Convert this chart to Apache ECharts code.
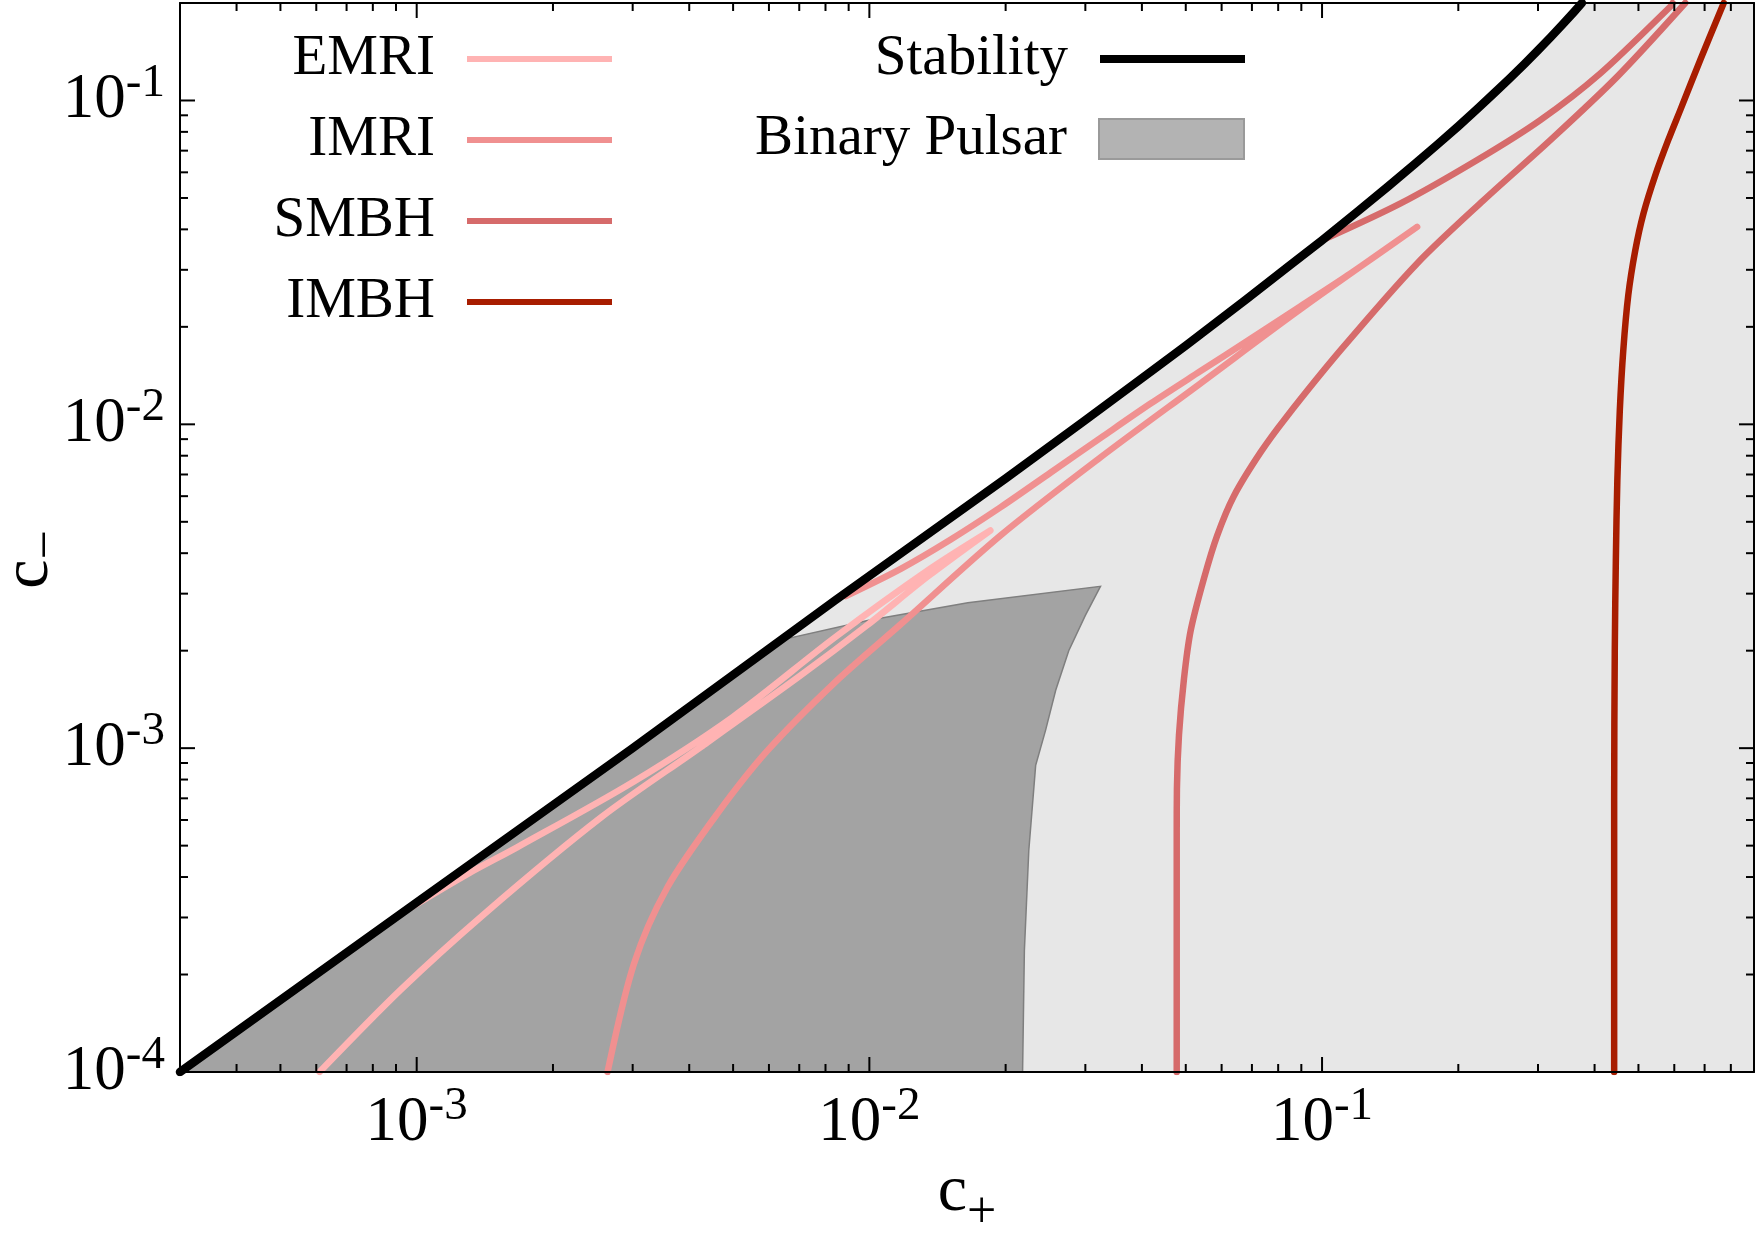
<!DOCTYPE html>
<html>
<head>
<meta charset="utf-8">
<script src="https://cdn.jsdelivr.net/npm/echarts@6/dist/echarts.min.js"></script>
<style>html,body{margin:0;padding:0;background:#fff}#chart{width:1763px;height:1238px}</style>
</head>
<body>
<div id="chart"></div>
<script>
// ---------------- data ----------------
const X_MIN = 3e-4, X_MAX = 0.9, Y_MIN = 1e-4, Y_MAX = 0.2;

const xMajorTicks = [1e-3, 1e-2, 1e-1];
const xTickLabels = ['-3', '-2', '-1'];
const xMinorTicks = [4e-4,5e-4,6e-4,7e-4,8e-4,9e-4, 2e-3,3e-3,4e-3,5e-3,6e-3,7e-3,8e-3,9e-3,
                     2e-2,3e-2,4e-2,5e-2,6e-2,7e-2,8e-2,9e-2, 0.2,0.3,0.4,0.5,0.6,0.7,0.8];
const yMajorTicks = [1e-4, 1e-3, 1e-2, 1e-1];
const yTickLabels = ['-4', '-3', '-2', '-1'];
const yMinorTicks = [2e-4,3e-4,4e-4,5e-4,6e-4,7e-4,8e-4,9e-4, 2e-3,3e-3,4e-3,5e-3,6e-3,7e-3,8e-3,9e-3,
                     2e-2,3e-2,4e-2,5e-2,6e-2,7e-2,8e-2,9e-2];

// stability boundary (c+, c-)
const stability = [[3e-4,1.0e-4],[1e-3,3.34e-4],[3e-3,1.0e-3],[8.4e-3,2.86e-3],[0.02,6.8e-3],[0.03,0.0103],
  [0.042,0.0146],[0.05,0.0175],[0.068,0.0243],[0.085,0.031],[0.1,0.037],[0.12,0.0455],[0.14,0.0543],
  [0.16,0.0635],[0.18,0.0732],[0.2,0.0833],[0.22,0.094],[0.24,0.1053],[0.26,0.1171],[0.28,0.1296],
  [0.3,0.1429],[0.32,0.1569],[0.34,0.1717],[0.36,0.1875],[0.375,0.2]];

// EMRI: lower branch up to the tip, then upper branch back to the stability line
const emri = [[6.1e-4,1.0e-4],[9.2e-4,1.79e-4],[1.4e-3,3.05e-4],[2.55e-3,6.1e-4],[4.25e-3,1.01e-3],
  [7.06e-3,1.68e-3],[9.9e-3,2.4e-3],[0.0135,3.4e-3],[0.0185,4.7e-3],
  [0.0135,3.55e-3],[8.4e-3,2.2e-3],[5.0e-3,1.25e-3],[3.0e-3,7.85e-4],[1.67e-3,4.95e-4],[1.3e-3,4.1e-4],[9.7e-4,3.22e-4]];

// IMRI: lower branch up to the tip, then upper branch back to the stability line
const imri = [[2.64e-3,1.0e-4],[3.02e-3,2.16e-4],[3.58e-3,3.72e-4],[4.62e-3,6.29e-4],[5.96e-3,9.84e-4],
  [8.35e-3,1.586e-3],[0.01173,2.413e-3],[0.01951,4.544e-3],[0.03243,7.914e-3],[0.05391,0.01339],
  [0.08966,0.02268],[0.1622,0.0407],
  [0.1156,0.02924],[0.08966,0.02317],[0.06955,0.01837],[0.05391,0.0146],[0.04181,0.01159],[0.03243,9.08e-3],
  [0.02516,7.1e-3],[0.01951,5.55e-3],[0.01513,4.41e-3],[0.01173,3.58e-3],[8.87e-3,2.95e-3]];

// SMBH: two branches
const smbhLower = [[0.04775,1.0e-4],[0.04775,5.35e-4],[0.0478,7.5e-4],[0.0483,1.097e-3],[0.04955,1.64e-3],
  [0.05126,2.306e-3],[0.05483,3.339e-3],[0.05871,4.55e-3],[0.06387,6.01e-3],[0.07312,8.19e-3],
  [0.08305,0.01045],[0.1099,0.01694],[0.1622,0.03139],[0.2276,0.04925],[0.3194,0.07544],[0.4484,0.1183],[0.6345,0.2]];
const smbhUpper = [[0.1,0.037],[0.1491,0.0481],[0.2202,0.0655],[0.3035,0.087],[0.412,0.1213],[0.5877,0.1948],[0.595,0.2]];

// IMBH
const imbh = [[0.4419,1.0e-4],[0.4419,6.9e-4],[0.4433,2.005e-3],[0.4457,3.8e-3],[0.4491,6.72e-3],[0.4548,0.01106],
  [0.4629,0.01694],[0.4748,0.02505],[0.4921,0.0345],[0.5132,0.0449],[0.5448,0.0588],[0.5817,0.0754],
  [0.6185,0.0934],[0.6847,0.1333],[0.7716,0.2]];

// Binary pulsar excluded region (polygon)
const pulsarRegion = [[3e-4,1.0e-4],[1e-3,3.34e-4],[3e-3,1.0e-3],[6.4e-3,2.16e-3],[9.91e-3,2.48e-3],
  [0.0165,2.81e-3],[0.0324,3.16e-3],[0.030,2.57e-3],[0.02757,2.0e-3],[0.0258,1.51e-3],[0.0245,1.135e-3],
  [0.0233,8.85e-4],[0.0225,4.83e-4],[0.0220,2.37e-4],[0.0218,1.0e-4]];

// ---------------- styling ----------------
const FONT = "'Liberation Serif', 'Times New Roman', serif";
const C_EMRI = '#FFB3B3', C_IMRI = '#F09090', C_SMBH = '#D66B6B', C_IMBH = '#A81D00';

const labelRich = {
  b: {fontFamily: FONT, fontSize: 63, lineHeight: 80, color: '#000'},
  s: {fontFamily: FONT, fontSize: 47, lineHeight: 30, verticalAlign: 'top', color: '#000'}
};
function powLabel(v, ticks, labels) {
  for (let i = 0; i < ticks.length; i++) {
    if (Math.abs(Math.log10(v) - Math.log10(ticks[i])) < 1e-6) return '{b|10}{s|' + labels[i] + '}';
  }
  return '';
}
const nameRich = {
  c: {fontFamily: FONT, fontSize: 66, lineHeight: 70, color: '#000'},
  sub: {fontFamily: FONT, fontSize: 52, padding: [34, 0, 0, 0], color: '#000'}
};
const xNameRich = {
  c: {fontFamily: FONT, fontSize: 66, lineHeight: 70, color: '#000'},
  sub: {fontFamily: FONT, fontSize: 52, padding: [40, 0, 0, 0], color: '#000'}
};

const axisLineStyle = {show: true, onZero: false, lineStyle: {color: '#000', width: 2}};

function lineSeries(name, data, color, width, z, smooth) {
  return {name: name, type: 'line', data: data, color: color, symbol: 'none', showSymbol: false, smooth: smooth,
    lineStyle: {color: color, width: width, cap: 'round', join: 'round'}, silent: true, z: z, clip: true};
}

const legendText = {fontFamily: FONT, fontSize: 57, color: '#000', lineHeight: 60, padding: [0, 27, 0, 0]};

const chart = echarts.init(document.getElementById('chart'), null, {renderer: 'canvas'});
chart.setOption({
  animation: false,
  backgroundColor: '#fff',
  grid: {left: 180, right: 9, top: 3, bottom: 166, containLabel: false, outerBoundsMode: 'none'},
  xAxis: [
    {type: 'log', logBase: 10, min: X_MIN, max: X_MAX, position: 'bottom', z: 10,
     axisLine: axisLineStyle, axisTick: {show: false}, minorTick: {show: false}, splitLine: {show: false},
     axisLabel: {margin: 11, formatter: v => powLabel(v, xMajorTicks, xTickLabels), rich: labelRich},
     name: '{c|c}{sub|+}', nameLocation: 'middle', nameGap: 75, nameMoveOverlap: false,
     nameTextStyle: {rich: xNameRich}},
    {type: 'log', logBase: 10, min: X_MIN, max: X_MAX, position: 'top', z: 10,
     axisLine: axisLineStyle, axisTick: {show: false}, minorTick: {show: false}, splitLine: {show: false},
     axisLabel: {show: false}}
  ],
  yAxis: [
    {type: 'log', logBase: 10, min: Y_MIN, max: Y_MAX, position: 'left', z: 10,
     axisLine: axisLineStyle, axisTick: {show: false}, minorTick: {show: false}, splitLine: {show: false},
     axisLabel: {margin: 15, formatter: v => powLabel(v, yMajorTicks, yTickLabels), rich: labelRich},
     name: '{c|c}{sub|\u2212}', nameLocation: 'middle', nameRotate: 90, nameGap: 107, nameMoveOverlap: false,
     nameTextStyle: {rich: nameRich, padding: [0, 44, 0, 0]}},
    {type: 'log', logBase: 10, min: Y_MIN, max: Y_MAX, position: 'right', z: 10,
     axisLine: axisLineStyle, axisTick: {show: false}, minorTick: {show: false}, splitLine: {show: false},
     axisLabel: {show: false}}
  ],
  legend: [
    {orient: 'vertical', align: 'right', right: 1151, top: 29, padding: 0, itemGap: 21,
     itemWidth: 145, itemHeight: 6, icon: 'rect', selectedMode: false,
     itemStyle: {borderWidth: 0}, textStyle: legendText,
     data: ['EMRI', 'IMRI', 'SMBH', 'IMBH']},
    {orient: 'vertical', align: 'right', right: 518, top: 29, padding: 0,
     itemWidth: 145, itemHeight: 8, icon: 'rect', selectedMode: false,
     itemStyle: {borderWidth: 0}, textStyle: legendText,
     data: [{name: 'Stability', itemStyle: {color: '#000', borderWidth: 0}}]},
    {orient: 'vertical', align: 'right', right: 518, top: 109, padding: 0,
     itemWidth: 145, itemHeight: 40, icon: 'rect', selectedMode: false, textStyle: legendText,
     data: [{name: 'Binary Pulsar', itemStyle: {color: '#B3B3B3', borderColor: '#9A9A9A', borderWidth: 2}}]}
  ],
  series: [
    {name: 'region', type: 'line', data: stability.concat([[X_MAX, Y_MAX]]), symbol: 'none', silent: true,
     lineStyle: {width: 0, opacity: 0}, areaStyle: {color: '#E7E7E7', opacity: 1, origin: 'start'}, z: 1},
    {name: 'Binary Pulsar', type: 'custom', coordinateSystem: 'cartesian2d', data: pulsarRegion,
     encode: {x: 0, y: 1}, silent: true, z: 2, itemStyle: {color: '#B3B3B3'},
     renderItem: function (params, api) {
       if (params.dataIndex !== 0) return null;
       const pts = pulsarRegion.map(p => api.coord(p));
       return {type: 'polygon', shape: {points: pts},
         style: {fill: '#A3A3A3', stroke: '#7F7F7F', lineWidth: 1.5}};
     }},
    lineSeries('EMRI', emri, C_EMRI, 6.5, 3, 0.3),
    lineSeries('IMRI', imri, C_IMRI, 6.5, 3, 0.3),
    lineSeries('SMBH', smbhLower, C_SMBH, 6.5, 3, 0.3),
    lineSeries('SMBH', smbhUpper, C_SMBH, 6.5, 3, 0.3),
    lineSeries('IMBH', imbh, C_IMBH, 6.5, 3, 0.3),
    lineSeries('Stability', stability, '#000', 8.5, 5, false),
    {name: 'xticks', type: 'custom', coordinateSystem: 'cartesian2d', silent: true, z: 20, clip: false,
     data: xMajorTicks.map(v => [v, Y_MIN, 1]).concat(xMinorTicks.map(v => [v, Y_MIN, 0])),
     encode: {x: 0, y: 1},
     renderItem: function (params, api) {
       const p = api.coord([api.value(0), Y_MIN]);
       const cs = params.coordSys; const L = api.value(2) === 1 ? 15 : 8;
       const top = cs.y, bot = cs.y + cs.height;
       return {type: 'group', children: [
         {type: 'line', shape: {x1: p[0], y1: bot, x2: p[0], y2: bot - L}, style: {stroke: '#000', lineWidth: 2}},
         {type: 'line', shape: {x1: p[0], y1: top, x2: p[0], y2: top + L}, style: {stroke: '#000', lineWidth: 2}}
       ]};
     }},
    {name: 'yticks', type: 'custom', coordinateSystem: 'cartesian2d', silent: true, z: 20, clip: false,
     data: yMajorTicks.map(v => [X_MIN, v, 1]).concat(yMinorTicks.map(v => [X_MIN, v, 0])),
     encode: {x: 0, y: 1},
     renderItem: function (params, api) {
       const p = api.coord([X_MIN, api.value(1)]);
       const cs = params.coordSys; const L = api.value(2) === 1 ? 15 : 8;
       const left = cs.x, right = cs.x + cs.width;
       return {type: 'group', children: [
         {type: 'line', shape: {x1: left, y1: p[1], x2: left + L, y2: p[1]}, style: {stroke: '#000', lineWidth: 2}},
         {type: 'line', shape: {x1: right, y1: p[1], x2: right - L, y2: p[1]}, style: {stroke: '#000', lineWidth: 2}}
       ]};
     }}
  ]
});
</script>
</body>
</html>
